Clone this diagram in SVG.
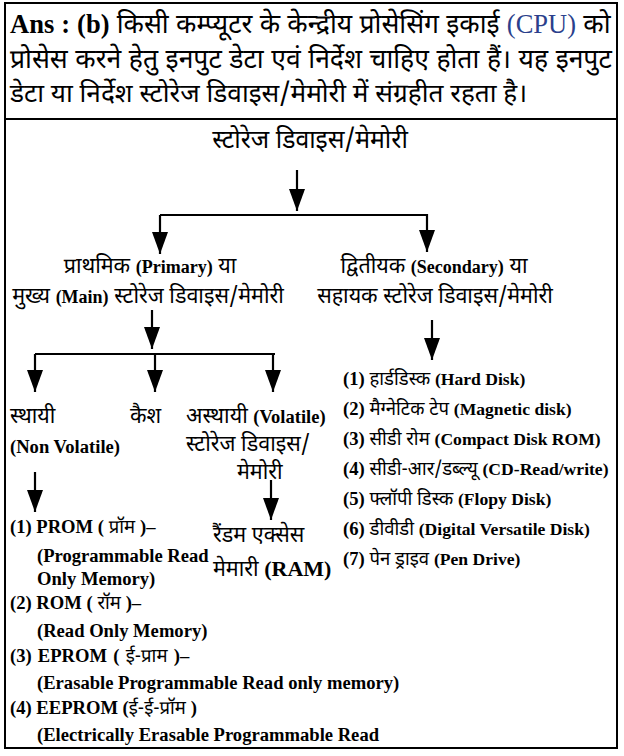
<svg xmlns="http://www.w3.org/2000/svg" width="624" height="756" viewBox="0 0 624 756">
<defs>
<style>
text{font-family:"Noto Sans Devanagari","Noto Sans",sans-serif;fill:#000}
.h{font-size:26.5px}
.t{font-size:21.5px}
.l{font-size:18.5px}
.b,.e{font-family:"Liberation Serif","Times New Roman",serif;font-weight:700}
.e{font-size:18.6px}
.s{font-size:17.6px}
.r{font-family:"Liberation Serif","Times New Roman",serif}
.c{stroke:#000;stroke-width:2.2;fill:none}
</style>
<marker id="ah" viewBox="0 -8 22 16" refX="22" refY="0" markerWidth="22" markerHeight="16" markerUnits="userSpaceOnUse" orient="auto">
<path d="M0,-8 L22,0 L0,8 Z" fill="#000"/>
</marker>
</defs>
<rect x="0" y="0" width="624" height="756" fill="#fff"/>
<rect x="5" y="3" width="612" height="745" fill="none" stroke="#000" stroke-width="2"/>
<line x1="5" y1="119" x2="617" y2="119" stroke="#000" stroke-width="2"/>

<g id="answer">
<text class="h" x="10" y="33" word-spacing="0.4"><tspan class="b">Ans : (b)</tspan> किसी कम्प्यूटर के केन्द्रीय प्रोसेसिंग इकाई <tspan class="r" fill="#2b3f8c">(CPU)</tspan> को</text>
<text class="h" x="10" y="68" word-spacing="0.7">प्रोसेस करने हेतु इनपुट डेटा एवं निर्देश चाहिए होता हैं। यह इनपुट</text>
<text class="h" x="10" y="102" style="font-size:26.2px">डेटा या निर्देश स्टोरेज डिवाइस/मेमोरी में संग्रहीत रहता है।</text>
</g>

<g id="connectors">
<line class="c" x1="297" y1="170" x2="297" y2="211" marker-end="url(#ah)"/>
<polyline class="c" points="160,215 427,215 427,252" marker-end="url(#ah)"/>
<line class="c" x1="160" y1="215" x2="160" y2="254" marker-end="url(#ah)"/>
<line class="c" x1="152" y1="310" x2="152" y2="349" marker-end="url(#ah)"/>
<line class="c" x1="35" y1="354" x2="275" y2="354"/>
<line class="c" x1="35" y1="354" x2="35" y2="392" marker-end="url(#ah)"/>
<line class="c" x1="155" y1="354" x2="155" y2="392" marker-end="url(#ah)"/>
<line class="c" x1="273" y1="354" x2="273" y2="392" marker-end="url(#ah)"/>
<line class="c" x1="432" y1="320" x2="432" y2="360" marker-end="url(#ah)"/>
<line class="c" x1="35" y1="472" x2="35" y2="512" marker-end="url(#ah)"/>
<line class="c" x1="271" y1="480" x2="271" y2="520" marker-end="url(#ah)"/>
</g>

<g id="storage">
<text class="t" x="310" y="148" text-anchor="middle" style="font-size:24.8px">स्टोरेज डिवाइस/मेमोरी</text>
</g>

<g id="primary">
<text class="t" x="150" y="273" text-anchor="middle">प्राथमिक <tspan class="b" font-size="18">(Primary)</tspan> या</text>
<text class="t" x="148" y="303" text-anchor="middle">मुख्य <tspan class="b" font-size="18">(Main)</tspan> स्टोरेज डिवाइस/मेमोरी</text>
</g>

<g id="secondary">
<text class="t" x="434" y="273" text-anchor="middle">द्वितीयक <tspan class="b" font-size="18">(Secondary)</tspan> या</text>
<text class="t" x="435" y="303" text-anchor="middle">सहायक स्टोरेज डिवाइस/मेमोरी</text>
</g>

<g id="nonvolatile">
<text class="t" x="10" y="423">स्थायी</text>
<text class="e" x="10" y="453">(Non Volatile)</text>
</g>

<g id="cache">
<text class="t" x="130" y="423">कैश</text>
</g>

<g id="volatile">
<text class="t" x="186" y="423">अस्थायी <tspan class="b" font-size="18.5">(Volatile)</tspan></text>
<text class="t" x="186" y="451">स्टोरेज डिवाइस/</text>
<text class="t" x="237" y="479">मेमोरी</text>
</g>

<g id="ram">
<text class="t" x="213" y="542">रैंडम एक्सेस</text>
<text class="t" x="213" y="576">मेमारी <tspan class="b" font-size="22">(RAM)</tspan></text>
</g>

<g id="rom-list">
<text class="l" x="10" y="533"><tspan class="e">(1) PROM (</tspan> प्रॉम <tspan class="e">)–</tspan></text>
<text class="e" x="37" y="562">(Programmable Read</text>
<text class="e" x="37" y="585">Only Memory)</text>
<text class="l" x="10" y="609"><tspan class="e">(2) ROM (</tspan> रॉम <tspan class="e">)–</tspan></text>
<text class="e" x="37" y="637">(Read Only Memory)</text>
<text class="l" x="10" y="662" word-spacing="1.5"><tspan class="e">(3) EPROM (</tspan> ई-प्राम <tspan class="e">)–</tspan></text>
<text class="e" x="37" y="689">(Erasable Programmable Read only memory)</text>
<text class="l" x="10" y="714"><tspan class="e">(4) EEPROM (</tspan>ई-ई-प्रॉम <tspan class="e">)</tspan></text>
<text class="e" x="37" y="741">(Electrically Erasable Programmable Read</text>
</g>

<g id="secondary-list">
<text class="l" x="343" y="385"><tspan class="e">(1)</tspan> हार्डडिस्क <tspan class="e s">(Hard Disk)</tspan></text>
<text class="l" x="343" y="415"><tspan class="e">(2)</tspan> मैग्नेटिक टेप <tspan class="e s">(Magnetic disk)</tspan></text>
<text class="l" x="343" y="445"><tspan class="e">(3)</tspan> सीडी रोम <tspan class="e s">(Compact Disk ROM)</tspan></text>
<text class="l" x="343" y="475"><tspan class="e">(4)</tspan> सीडी-आर/डब्ल्यू <tspan class="e s">(CD-Read/write)</tspan></text>
<text class="l" x="343" y="505"><tspan class="e">(5)</tspan> फ्लॉपी डिस्क <tspan class="e s">(Flopy Disk)</tspan></text>
<text class="l" x="343" y="535"><tspan class="e">(6)</tspan> डीवीडी <tspan class="e s">(Digital Versatile Disk)</tspan></text>
<text class="l" x="343" y="565"><tspan class="e">(7)</tspan> पेन ड्राइव <tspan class="e s">(Pen Drive)</tspan></text>
</g>
</svg>
